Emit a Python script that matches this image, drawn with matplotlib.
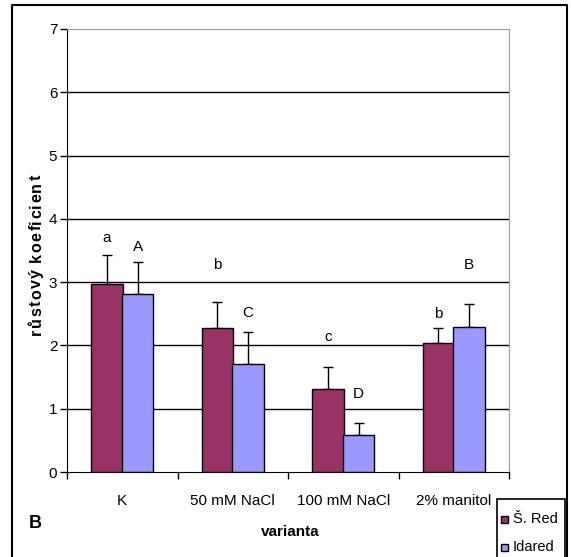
import matplotlib
matplotlib.use("Agg")
import matplotlib.pyplot as plt
from matplotlib.patches import Rectangle
from matplotlib.lines import Line2D
from matplotlib.font_manager import FontProperties
import numpy as np

plt.rcParams['font.family'] = ['Liberation Sans', 'DejaVu Sans']

categories = ["K", "50 mM NaCl", "100 mM NaCl", "2% manitol"]
series_names = ["Š. Red", "Idared"]
sred_vals = [2.97, 2.27, 1.31, 2.04]
sred_err = [0.46, 0.42, 0.35, 0.23]
idared_vals = [2.81, 1.71, 0.58, 2.29]
idared_err = [0.51, 0.50, 0.19, 0.36]
sred_letters = ["a", "b", "c", "b"]
sred_letter_y = [3.70, 3.27, 2.13, 2.50]
idared_letters = ["A", "C", "D", "B"]
idared_letter_y = [3.56, 2.51, 1.23, 3.27]
y_ticks = [0, 1, 2, 3, 4, 5, 6, 7]
y_label = "růstový koeficient"

W, H = 571, 557
fig = plt.figure(figsize=(W / 100, H / 100), dpi=100)
ax = fig.add_axes([67 / W, 1 - 472 / H, (509 - 67) / W, (472 - 29) / H])

x = np.arange(len(categories))
off, bw = 0.14, 0.285
series_colors = ["#993366", "#9999FF"]

for y in y_ticks[1:-1]:
    ax.axhline(y, color="black", lw=1, zorder=0)

ax.bar(x - off, sred_vals, bw, color=series_colors[0], edgecolor="black", lw=1, zorder=2)
ax.bar(x + off, idared_vals, bw, color=series_colors[1], edgecolor="black", lw=1, zorder=2)
ax.errorbar(x - off, sred_vals, yerr=[np.zeros(4), sred_err], fmt="none",
            ecolor="black", elinewidth=1, capsize=3.5, capthick=1, zorder=1)
ax.errorbar(x + off, idared_vals, yerr=[np.zeros(4), idared_err], fmt="none",
            ecolor="black", elinewidth=1, capsize=3.5, capthick=1, zorder=1)

for i in range(len(categories)):
    ax.text(x[i] - off, sred_letter_y[i], sred_letters[i], ha="center", va="center", fontsize=11)
    ax.text(x[i] + off, idared_letter_y[i], idared_letters[i], ha="center", va="center", fontsize=11)

ax.set_xlim(-0.5, 3.5)
ax.set_ylim(0, 7)
ax.set_yticks(y_ticks)
ax.set_yticklabels([str(v) for v in y_ticks], fontsize=11)
ax.tick_params(axis="y", direction="out", length=5, width=1, pad=2)

ax.set_xticks(np.arange(-0.5, 4, 1))
ax.set_xticklabels([])
ax.tick_params(axis="x", which="major", direction="out", length=5, width=1)
ax.set_xticks(x, minor=True)
ax.set_xticklabels(categories, minor=True, fontsize=11)
ax.tick_params(axis="x", which="minor", length=0, pad=16)

for s in ["top", "right"]:
    ax.spines[s].set_color("#999999")
ax.spines["left"].set_color("black")
ax.spines["bottom"].set_color("black")

# letter-spaced vertical axis title, drawn glyph by glyph from the bottom up
fp = FontProperties(family="Liberation Sans", weight="bold", size=11.5)
renderer = fig.canvas.get_renderer()


def advance(s):
    ref = renderer.get_text_width_height_descent("l", fp, ismath=False)[0]
    return renderer.get_text_width_height_descent(s + "l", fp, ismath=False)[0] - ref


start_px, end_px = 335.0, 175.0
natural = advance(y_label)
gap = (start_px - end_px - natural) / (len(y_label) - 1)
for i, ch in enumerate(y_label):
    pos = start_px - advance(y_label[:i]) - i * gap
    fig.text(41 / W, 1 - pos / H, ch, rotation=90, ha="left", va="baseline",
             fontproperties=fp, rotation_mode="anchor")

fig.text(290 / W, 1 - 532 / H, "varianta", ha="center", va="center", fontsize=11, fontweight="bold")
fig.text(35 / W, 1 - 524 / H, "B", ha="center", va="center", fontsize=13, fontweight="bold")

# outer chart border
fx0, fx1, fy = 12 / W, 567 / W, 1 - 5 / H
fig.add_artist(Line2D([fx0, fx0, fx1, fx1], [-0.05, fy, fy, -0.05], color="black", lw=1.5,
                      transform=fig.transFigure))

# legend box in the lower right corner, running off the bottom edge
tf = fig.transFigure
fig.add_artist(Rectangle((497 / W, -0.02), (565 - 497) / W, (0.02 + 1 - 499 / H),
                         transform=tf, facecolor="white", edgecolor="black", lw=1.2))
for k, (name, col) in enumerate(zip(series_names, series_colors)):
    yc = 519 + 28 * k
    fig.add_artist(Rectangle((501.5 / W, 1 - (yc + 3.5) / H), 7 / W, 7 / H, transform=tf,
                             facecolor=col, edgecolor="black", lw=1))
    fig.text(513 / W, 1 - yc / H, name, ha="left", va="center", fontsize=10.5)

fig.savefig("out.png", dpi=100)
